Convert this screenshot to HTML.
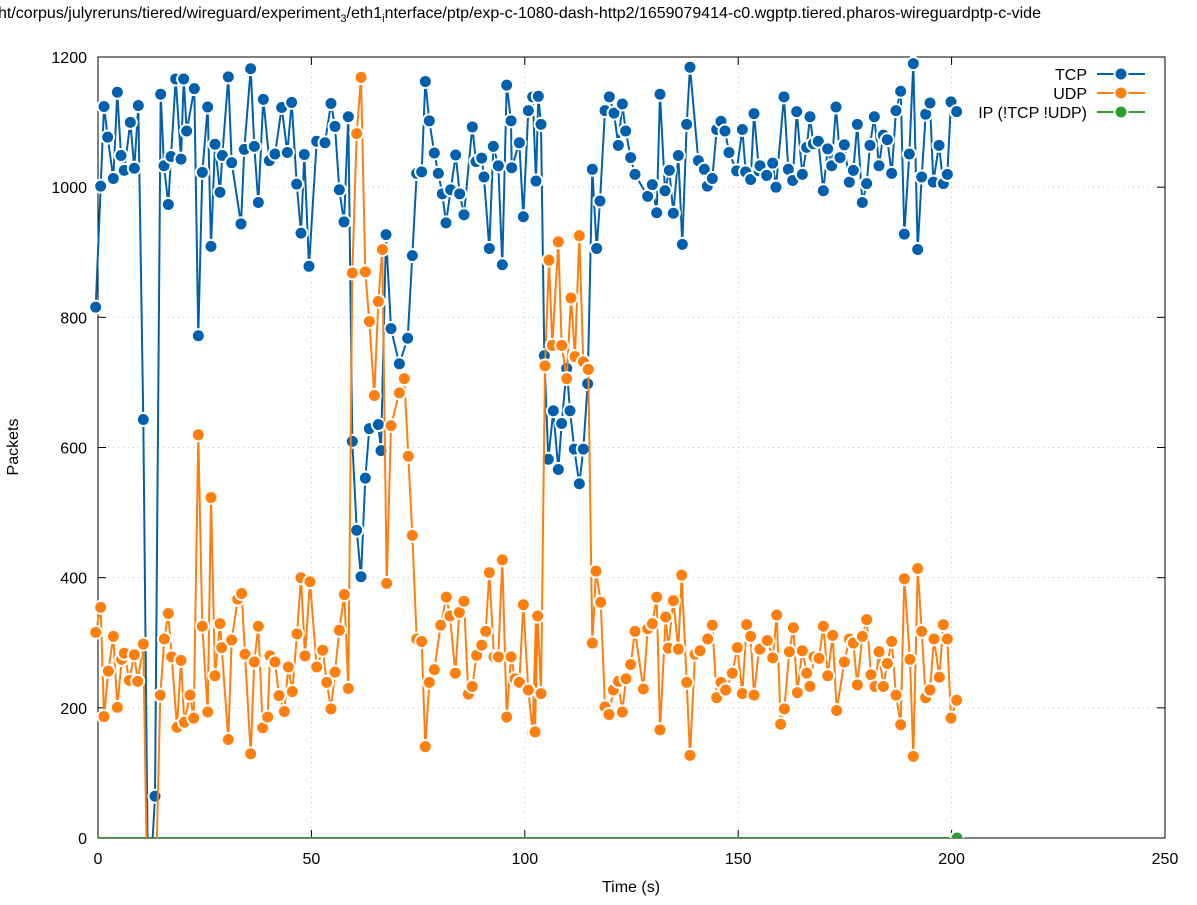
<!DOCTYPE html>
<html><head><meta charset="utf-8"><style>
html,body{margin:0;padding:0;background:#fff;}
svg text{font-family:"Liberation Sans","DejaVu Sans",sans-serif;}
</style></head><body>
<svg id="c" width="1197" height="900" xmlns="http://www.w3.org/2000/svg">
<rect width="1197" height="900" fill="#fff"/>
<text x="-2" y="18" font-size="16" fill="#000">ht/corpus/julyreruns/tiered/wireguard/experiment<tspan font-size="11" dy="4">3</tspan><tspan dy="-4">/eth1</tspan><tspan font-size="11" dy="4">i</tspan><tspan dy="-4">nterface/ptp/exp-c-1080-dash-http2/1659079414-c0.wgptp.tiered.pharos-wireguardptp-c-vide</tspan></text>
<g id="grid" stroke="#c8c8c8" stroke-width="1" stroke-dasharray="1,4"></g>
<g id="axes"></g>
<defs><clipPath id="pc"><rect x="80" y="40" width="1100" height="798"/></clipPath></defs>
<g id="data" clip-path="url(#pc)"></g>
<g id="leg"></g>
<text x="18" y="447" font-size="16" text-anchor="middle" transform="rotate(-90 18 447)">Packets</text>
<text x="631" y="892" font-size="16" text-anchor="middle">Time (s)</text>
</svg>
<script>
var NS="http://www.w3.org/2000/svg";
function el(p,t,a,txt){var e=document.createElementNS(NS,t);for(var k in a)e.setAttribute(k,a[k]);if(txt!==undefined)e.textContent=txt;p.appendChild(e);return e;}
var g=document.getElementById('grid'),ax=document.getElementById('axes');
var X0=98,X1=1165,Y0=838,Y1=57;
for(var v=0;v<=1200;v+=200){var y=Y0-(v/1200)*(Y0-Y1);
 if(v>0&&v<1200)el(g,'line',{x1:X0,x2:X1,y1:y,y2:y});
 el(ax,'line',{x1:X0,x2:X0+8,y1:y,y2:y,stroke:'#000'});el(ax,'line',{x1:X1,x2:X1-8,y1:y,y2:y,stroke:'#000'});
 el(ax,'text',{x:87,y:y+6,'font-size':16,'text-anchor':'end'},v);}
for(var t=0;t<=250;t+=50){var x=X0+t*(X1-X0)/250;
 if(t>0&&t<250)el(g,'line',{x1:x,x2:x,y1:Y0,y2:Y1});
 el(ax,'line',{x1:x,x2:x,y1:Y0,y2:Y0-8,stroke:'#000'});el(ax,'line',{x1:x,x2:x,y1:Y1,y2:Y1+8,stroke:'#000'});
 el(ax,'text',{x:x,y:864,'font-size':16,'text-anchor':'middle'},t);}
el(ax,'rect',{x:X0,y:Y1,width:X1-X0,height:Y0-Y1,fill:'none',stroke:'#000','stroke-width':1});
function cv(off,arr){return arr.map(function(p){return [off+p[0]/3,57+(p[1]-15)*0.5105];});}
var blue=[].concat(
cv(85,[[32,505],[47,268],[57,112],[68,172],[85,253],[97,84],[108,208],[118,237],[136,143],[148,233],[160,110],[175,725],[190,1700],[210,1463],[227,88],[237,228],[250,304],[258,210],[272,58],[288,215],[296,58],[305,160],[328,77],[340,561],[352,241],[368,113],[378,386],[390,186],[405,280],[412,208],[430,54],[440,222],[468,342],[478,196],[497,38],[508,190],[520,300],[535,98],[553,218],[570,205],[590,114],[607,202],[620,104],[635,264],[648,360],[658,206],[672,425]]),
cv(310,[[20,180],[45,183],[63,106],[75,151],[88,275],[102,338],[115,132],[127,768],[140,942],[153,1033],[166,840],[178,743],[205,735],[213,786],[228,363],[243,547],[268,616],[293,566],[307,404],[320,243],[335,240],[346,63],[358,140],[373,203],[385,243],[397,283],[408,340],[422,275],[437,207],[449,283],[462,324],[487,152],[498,220],[515,213],[522,250],[538,390],[550,190],[565,228],[577,422],[590,70],[603,140],[605,232],[628,183],[640,328],[655,120],[668,93],[678,258]]),
cv(535,[[10,92],[18,147],[28,600],[40,803],[55,708],[70,823],[80,733],[95,625],[105,708],[118,783],[133,851],[145,783],[158,655],[172,235],[185,390],[195,297],[210,120],[223,93],[237,125],[250,188],[262,107],[272,160],[287,212],[300,245],[338,288],[352,265],[365,320],[375,88],[390,277],[403,237],[415,321],[430,208],[442,382],[455,147],[465,35],[490,218],[508,235],[517,268],[532,253],[545,157],[558,141],[570,160],[582,202],[605,238],[622,157],[632,240],[647,255],[657,126],[672,238]]),
cv(760,[[0,228],[20,247],[38,223],[48,270],[72,93],[85,235],[98,257],[110,122],[127,245],[140,192],[150,132],[160,185],[175,180],[190,277],[203,195],[215,228],[228,113],[240,212],[253,187],[268,260],[280,237],[292,147],[307,300],[320,263],[330,188],[343,132],[357,228],[370,168],[382,177],[395,243],[408,120],[422,82],[433,362],[448,205],[460,28],[473,392],[485,250],[497,127],[510,105],[520,260],[537,188],[550,263],[562,245],[573,103],[590,122]]));
var orange=[].concat(
cv(85,[[32,1142],[47,1093],[57,1307],[70,1218],[85,1150],[97,1289],[110,1195],[118,1183],[133,1236],[148,1186],[158,1238],[175,1165],[188,1700],[210,1700],[226,1265],[238,1155],[250,1105],[260,1190],[276,1328],[288,1197],[298,1318],[315,1265],[326,1310],[340,755],[352,1130],[368,1298],[378,878],[390,1227],[405,1125],[410,1172],[430,1352],[440,1157],[458,1077],[470,1066],[480,1185],[497,1380],[508,1200],[520,1130],[533,1329],[548,1308],[555,1188],[570,1200],[582,1266],[598,1297],[610,1210],[622,1258],[636,1145],[648,1035],[660,1188],[675,1043]]),
cv(310,[[20,1210],[38,1177],[50,1240],[63,1292],[75,1220],[88,1138],[103,1068],[115,1252],[127,438],[140,165],[153,55],[166,436],[178,533],[193,678],[205,494],[217,392],[230,1046],[243,737],[268,673],[283,645],[295,797],[307,952],[320,1155],[335,1160],[346,1366],[358,1240],[373,1215],[392,1128],[409,1073],[420,1110],[436,1222],[448,1103],[462,1081],[475,1263],[487,1248],[500,1187],[515,1167],[527,1140],[538,1025],[552,1190],[565,1190],[577,1000],[590,1308],[603,1190],[615,1233],[628,1240],[640,1088],[655,1255],[668,1338],[678,1110]]),
cv(535,[[0,1337],[8,1110],[18,1262],[30,620],[42,413],[52,580],[70,377],[80,580],[95,645],[108,487],[120,602],[133,365],[145,612],[160,627],[172,1163],[183,1022],[197,1083],[210,1288],[222,1303],[235,1255],[250,1238],[262,1298],[273,1233],[287,1205],[300,1140],[325,1253],[338,1135],[352,1125],[365,1073],[375,1333],[392,1112],[400,1173],[415,1080],[430,1175],[440,1030],[455,1240],[465,1383],[480,1185],[495,1178],[518,1155],[532,1128],[545,1270],[558,1240],[572,1255],[592,1222],[607,1172],[622,1262],[635,1127],[647,1150],[657,1265],[672,1175]]),
cv(760,[[0,1175],[22,1158],[38,1192],[50,1108],[62,1322],[73,1292],[88,1180],[100,1133],[112,1260],[127,1178],[140,1222],[150,1248],[162,1190],[177,1193],[190,1130],[203,1227],[218,1148],[230,1295],[253,1200],[268,1155],[280,1163],[292,1245],[307,1150],[320,1117],[333,1225],[345,1248],[357,1180],[370,1248],[382,1203],[395,1160],[408,1265],[422,1323],[433,1037],[450,1195],[460,1385],[473,1017],[485,1140],[497,1270],[510,1255],[522,1155],[538,1230],[550,1127],[562,1155],[573,1310],[590,1275]]));
var d=document.getElementById('data');
function series(pts,col){
 el(d,'polyline',{points:pts.map(function(p){return p[0].toFixed(1)+','+p[1].toFixed(1)}).join(' '),fill:'none',stroke:col,'stroke-width':2,'stroke-linejoin':'round'});
 pts.forEach(function(p){if(p[1]<850)el(d,'circle',{cx:p[0],cy:p[1],r:6.5,fill:col,stroke:'#fff','stroke-width':2});});
}
el(d,'line',{x1:98,x2:957,y1:838,y2:838,stroke:'#2ca02c','stroke-width':2});
series(blue,'#0060ad');
series(orange,'#ff7f0e');
el(d,'circle',{cx:957,cy:838,r:6.5,fill:'#2ca02c',stroke:'#fff','stroke-width':2});
var lg=document.getElementById('leg');
[['TCP','#0060ad',74],['UDP','#ff7f0e',93],['IP (!TCP  !UDP)','#2ca02c',112]].forEach(function(a){
 el(lg,'text',{x:1087,y:a[2]+6,'font-size':16,'text-anchor':'end','xml:space':'preserve'},a[0]);
 el(lg,'line',{x1:1097,x2:1145,y1:a[2],y2:a[2],stroke:a[1],'stroke-width':2});
 el(lg,'circle',{cx:1121,cy:a[2],r:6.5,fill:a[1],stroke:'#fff','stroke-width':2});
});
</script>
</body></html>
